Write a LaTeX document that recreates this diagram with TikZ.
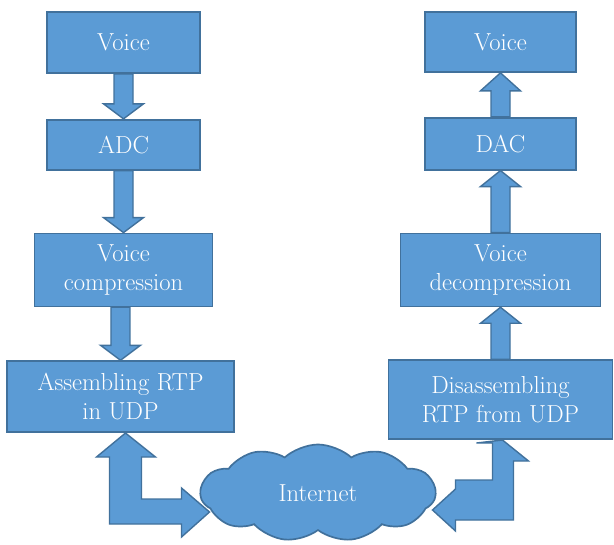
\documentclass[tikz,border=0pt]{standalone}
\usepackage{tikz}
\usepackage{xcolor}
\usetikzlibrary{shapes.geometric, shapes.symbols, arrows.meta, positioning, calc}
\definecolor{BoxBlue}{HTML}{5B9BD5}
\definecolor{BoxEdge}{HTML}{41719C}
\tikzset{
    % Labels on the blue shapes
    every node/.style={font=\fontsize{17.5}{21}\selectfont},
    % Process box style
    block/.style={
        rectangle,
        draw=BoxEdge,
        fill=BoxBlue,
        line width=1.2pt,
        text=white,
        align=center,
        inner sep=2pt
    },
    % Block arrow style
    blockarrow/.style={
        draw=BoxEdge,
        fill=BoxBlue,
        line width=1pt,
        line join=miter
    },
    % Network cloud
    network/.style={
        cloud,
        cloud puffs=11,
        cloud puff arc=85,
        cloud ignores aspect,
        draw=BoxEdge,
        fill=BoxBlue,
        line width=1.2pt,
        text=white
    }
}
% vertical block arrow: #1 start node anchor, #2 tip anchor, #3 head length (signed)
\newcommand{\vblockarrow}[3]{%
    \draw [blockarrow] ($(#2|-#1)+(-9.5,0)$) -- ($(#2)+(-9.5,#3)$) -- ($(#2)+(-20,#3)$)
        -- (#2) -- ($(#2)+(20,#3)$) -- ($(#2)+(9.5,#3)$) -- ($(#2|-#1)+(9.5,0)$) -- cycle;}

\begin{document}
\begin{tikzpicture}[x=0.025cm, y=0.025cm]
        \useasboundingbox (0,0) rectangle (614,-545);

        % Sender side
        \node (voiceA) [block, minimum width=3.825cm, minimum height=1.525cm] at (123.5,-42.5) {Voice};
        \node (adc) [block, minimum width=3.825cm, minimum height=1.25cm, below=1.125cm of voiceA] {ADC};
        \node (comp) [block, minimum width=4.45cm, minimum height=1.825cm, below=1.55cm of adc] {Voice\\compression};
        \node (asm) [block, minimum width=5.675cm, minimum height=1.775cm, below=1.325cm of comp, xshift=-0.075cm] {Assembling RTP\\in UDP};

        % Receiver side
        \node (voiceB) [block, minimum width=3.775cm, minimum height=1.5cm] at (500.5,-42) {Voice};
        \node (dac) [block, minimum width=3.775cm, minimum height=1.3cm, below=1.1cm of voiceB] {DAC};
        \node (decomp) [block, minimum width=5cm, minimum height=1.825cm, below=1.55cm of dac] {Voice\\decompression};
        \node (disasm) [block, minimum width=5.6cm, minimum height=1.975cm, below=1.3cm of decomp] {Disassembling\\RTP from UDP};

        \vblockarrow{voiceA.south}{adc.north}{15}
        \vblockarrow{adc.south}{comp.north}{15}
        \vblockarrow{comp.south}{asm.north}{15}
        \vblockarrow{dac.north}{voiceB.south}{-18}
        \vblockarrow{decomp.north}{dac.south}{-16}
        \vblockarrow{disasm.north}{decomp.south}{-16}

        % Links to the network
        \draw [blockarrow] ($(asm.south)+(5,0)$) -- ++(30,-24) -- ++(-14,0) -- ++(0,-42) -- ++(40,0)
            -- ++(0,11) -- ++(28,-24) -- ++(-28,-25) -- ++(0,13) -- ++(-72,0) -- ++(0,67) -- ++(-13,0) -- cycle;
        \draw [blockarrow] ($(disasm.south)+(2,0)$) -- ++(26,-21) -- ++(-15,0) -- ++(0,-59) -- ++(-58,0)
            -- ++(0,-11) -- ++(-23,21) -- ++(23,21) -- ++(0,9) -- ++(37,0) -- ++(0,37) -- ++(-16,0) -- cycle;

        \node (net) [network, minimum width=5.875cm, minimum height=2.425cm] at (318,-493) {Internet};
    \end{tikzpicture}
\end{document}
